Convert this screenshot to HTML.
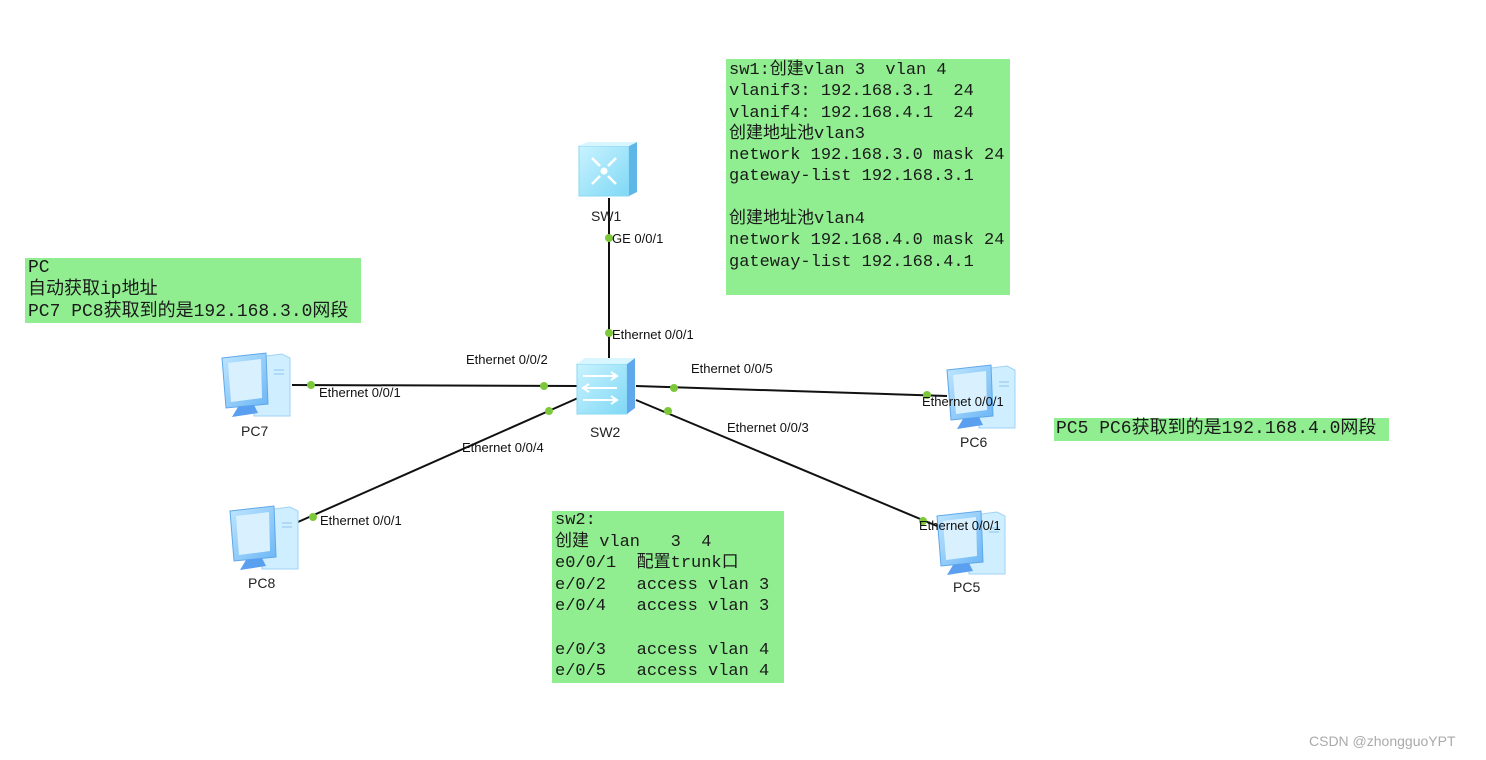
<!DOCTYPE html>
<html><head><meta charset="utf-8">
<style>
body{margin:0;width:1486px;height:760px;background:#fff;position:relative;overflow:hidden}
.box{position:absolute;background:#90ee90}
.t{position:absolute;white-space:pre;font-family:"Liberation Mono","Noto Sans CJK SC",monospace;color:#1a1a1a}
.lbl{position:absolute;white-space:pre;font-family:"Liberation Sans",sans-serif;font-size:13px;color:#111}
.nm{position:absolute;white-space:pre;font-family:"Liberation Sans",sans-serif;font-size:14px;color:#222}
</style></head><body>
<div class="box" style="left:726px;top:59px;width:284px;height:236px"></div>
<div class="box" style="left:25px;top:258px;width:336px;height:65px"></div>
<div class="box" style="left:1054px;top:418px;width:335px;height:23px"></div>
<div class="box" style="left:552px;top:511px;width:232px;height:172px"></div>

<div class="t" style="left:729px;top:60px;font-size:17px;line-height:21.3px">sw1:创建vlan 3  vlan 4
vlanif3: 192.168.3.1  24
vlanif4: 192.168.4.1  24
创建地址池vlan3
network 192.168.3.0 mask 24
gateway-list 192.168.3.1

创建地址池vlan4
network 192.168.4.0 mask 24
gateway-list 192.168.4.1</div>
<div class="t" style="left:28px;top:257px;font-size:18px;line-height:22px">PC
自动获取ip地址
PC7 PC8获取到的是192.168.3.0网段</div>
<div class="t" style="left:1056px;top:418px;font-size:18px;line-height:22px">PC5 PC6获取到的是192.168.4.0网段</div>
<div class="t" style="left:555px;top:510px;font-size:17px;line-height:21.6px">sw2:
创建 vlan   3  4
e0/0/1  配置trunk口
e/0/2   access vlan 3
e/0/4   access vlan 3

e/0/3   access vlan 4
e/0/5   access vlan 4</div>

<svg width="1486" height="760" style="position:absolute;left:0;top:0">
<defs>
<linearGradient id="sw" x1="0" y1="0" x2="1" y2="1"><stop offset="0" stop-color="#c9f3ff"/><stop offset="1" stop-color="#7fd8f5"/></linearGradient>
<linearGradient id="pc" x1="0" y1="0" x2="1" y2="1"><stop offset="0" stop-color="#bfe6ff"/><stop offset="1" stop-color="#6cb6f5"/></linearGradient>
<g id="pcic">
<path d="M30 8 L62 4 L70 8 L70 66 L34 66 Z" fill="#cfeeff" stroke="#9fd3f5"/>
<path d="M2 8 L46 3 L48 54 L6 58 Z" fill="url(#pc)" stroke="#5ea8ea"/>
<path d="M8 13 L41 9 L42 48 L11 52 Z" fill="#d9f1ff"/>
<path d="M18 57 L34 55 L38 63 L12 67 Z" fill="#5a9ff0"/>
<line x1="54" y1="20" x2="64" y2="20" stroke="#8cc7ef"/><line x1="54" y1="24" x2="64" y2="24" stroke="#8cc7ef"/>
</g>
</defs>
<g stroke="#111" stroke-width="2" fill="none">
<line x1="609" y1="198" x2="609" y2="360"/>
<line x1="292" y1="385" x2="578" y2="386"/>
<line x1="298" y1="522" x2="578" y2="398"/>
<line x1="636" y1="386" x2="947" y2="396"/>
<line x1="636" y1="400" x2="937" y2="526"/>
</g>
<rect x="579" y="146" width="50" height="50" fill="url(#sw)" stroke="#8ad7f2"/>
<path d="M629 146 L637 142 L637 192 L629 196 Z" fill="#5fb7e8"/>
<path d="M579 146 L587 142 L637 142 L629 146 Z" fill="#d8f6ff"/>
<g stroke="#fff" stroke-width="2.5" fill="none"><path d="M592 158l8 8M616 158l-8 8M592 184l8-8M616 184l-8-8"/></g>
<circle cx="604" cy="171" r="3.5" fill="#fff"/>
<rect x="577" y="364" width="50" height="50" fill="url(#sw)" stroke="#8ad7f2"/>
<path d="M627 364 L635 358 L635 408 L627 414 Z" fill="#5fa8ec"/>
<path d="M577 364 L585 358 L635 358 L627 364 Z" fill="#d8f6ff"/>
<g stroke="#fff" stroke-width="2" fill="none"><path d="M583 376h34m-6-4l6 4-6 4M617 388h-34m6-4l-6 4 6 4M583 400h34m-6-4l6 4-6 4"/></g>
<use href="#pcic" x="220" y="350"/>
<use href="#pcic" x="228" y="503"/>
<use href="#pcic" x="945" y="362"/>
<use href="#pcic" x="935" y="508"/>
<g fill="#7cc83a">
<circle cx="609" cy="238" r="4"/><circle cx="609" cy="333" r="4"/>
<circle cx="311" cy="385" r="4"/><circle cx="544" cy="386" r="4"/>
<circle cx="313" cy="517" r="4"/><circle cx="549" cy="411" r="4"/>
<circle cx="674" cy="388" r="4"/><circle cx="927" cy="395" r="4"/>
<circle cx="668" cy="411" r="4"/><circle cx="923" cy="521" r="4"/>
</g>
</svg>
<div class="nm" style="left:591px;top:208px">SW1</div>
<div class="nm" style="left:590px;top:424px">SW2</div>
<div class="nm" style="left:241px;top:423px">PC7</div>
<div class="nm" style="left:248px;top:575px">PC8</div>
<div class="nm" style="left:960px;top:434px">PC6</div>
<div class="nm" style="left:953px;top:579px">PC5</div>
<div class="lbl" style="left:612px;top:231px">GE 0/0/1</div>
<div class="lbl" style="left:612px;top:327px">Ethernet 0/0/1</div>
<div class="lbl" style="left:466px;top:352px">Ethernet 0/0/2</div>
<div class="lbl" style="left:319px;top:385px">Ethernet 0/0/1</div>
<div class="lbl" style="left:691px;top:361px">Ethernet 0/0/5</div>
<div class="lbl" style="left:727px;top:420px">Ethernet 0/0/3</div>
<div class="lbl" style="left:462px;top:440px">Ethernet 0/0/4</div>
<div class="lbl" style="left:320px;top:513px">Ethernet 0/0/1</div>
<div class="lbl" style="left:922px;top:394px">Ethernet 0/0/1</div>
<div class="lbl" style="left:919px;top:518px">Ethernet 0/0/1</div>
<div style="position:absolute;left:1309px;top:733px;font-family:'Liberation Sans',sans-serif;font-size:14px;color:#aaa">CSDN @zhongguoYPT</div>
</body></html>
